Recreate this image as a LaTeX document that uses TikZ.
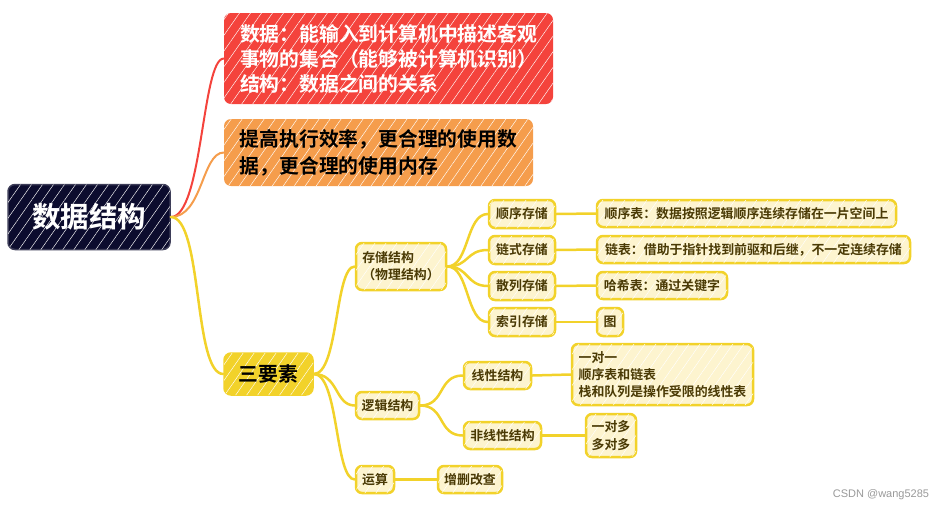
\documentclass[tikz,border=0pt]{standalone}
\usepackage{fontspec}
\newfontfamily\cjk{Noto Sans CJK SC}
\newfontfamily\cjkb{Noto Sans CJK SC Bold}
\setsansfont{Liberation Sans}
\usetikzlibrary{patterns.meta}
\definecolor{navy}{HTML}{0C0C2E}
\definecolor{redc}{HTML}{F4433C}
\definecolor{orac}{HTML}{F59D4C}
\definecolor{yelc}{HTML}{F2D22A}
\definecolor{lightc}{HTML}{FDF4CF}
\definecolor{brownc}{HTML}{4A3A05}
\tikzset{
  hatch/.style={postaction={pattern={Lines[angle=55,distance=9pt,line width=0.45pt]},pattern color=white}},
  rootbox/.style={draw=navy!80!white, line width=1.5pt, fill=navy, rounded corners=7pt, hatch,
     text=white, font=\cjkb\fontsize{28.5}{30}\selectfont, inner sep=0pt},
  topbox/.style={rounded corners=7pt, hatch, inner sep=0pt, align=left,
     font=\cjkb\fontsize{19.8}{25}\selectfont},
  mainbox/.style={draw=yelc, line width=1.5pt, fill=yelc, rounded corners=7pt, hatch, inner sep=0pt,
     font=\cjkb\fontsize{19.8}{22}\selectfont, text=black},
  leaf/.style={draw=yelc, line width=2.5pt, fill=lightc, rounded corners=6pt, hatch, inner sep=0pt,
     align=left, text=brownc, font=\cjkb\fontsize{12.9}{17}\selectfont},
  conn/.style={line width=2.5pt, yelc, line cap=round},
  tconn/.style={line width=2pt, line cap=round}
}
\begin{document}
\begin{tikzpicture}[x=1pt,y=-1pt]
\useasboundingbox (0,0) rectangle (945,512);
% nodes
\node[rootbox, minimum width=162pt, minimum height=65pt] (root) at (89,217) {数据结构};
\node[topbox, fill=redc, text=white, minimum width=329pt, minimum height=91pt] (red) at (388.5,58.5)
  {数据：能输入到计算机中描述客观\\事物的集合（能够被计算机识别）\\结构：数据之间的关系};
\node[topbox, fill=orac, text=black, minimum width=309pt, minimum height=67pt,
  font=\cjkb\fontsize{19.8}{27}\selectfont] (ora) at (378.5,152.5)
  {提高执行效率，更合理的使用数\\据，更合理的使用内存};
\node[mainbox, minimum width=89pt, minimum height=42pt] (three) at (268.5,374) {三要素};

\node[leaf, minimum width=90pt, minimum height=47pt] (cc) at (401,266.5) {存储结构\\（物理结构）};
\node[leaf, minimum width=66pt, minimum height=28pt] (sx) at (522,214) {顺序存储};
\node[leaf, minimum width=66pt, minimum height=28pt] (ls) at (522,250) {链式存储};
\node[leaf, minimum width=66pt, minimum height=28pt] (sl) at (522,286) {散列存储};
\node[leaf, minimum width=66pt, minimum height=28pt] (sy) at (522,322) {索引存储};
\node[leaf, minimum width=299pt, minimum height=27pt] (sxb) at (746.5,213.5) {顺序表：数据按照逻辑顺序连续存储在一片空间上};
\node[leaf, minimum width=313pt, minimum height=27pt] (lb) at (753.5,249.5) {链表：借助于指针找到前驱和后继，不一定连续存储};
\node[leaf, minimum width=130pt, minimum height=27pt] (hx) at (662,285.5) {哈希表：通过关键字};
\node[leaf, minimum width=26pt, minimum height=28pt] (tu) at (610,322) {图};

\node[leaf, minimum width=63pt, minimum height=27pt] (lj) at (387.5,405.5) {逻辑结构};
\node[leaf, minimum width=67pt, minimum height=27pt] (xx) at (497.5,375.5) {线性结构};
\node[leaf, minimum width=181pt, minimum height=61pt] (yy) at (662.5,374.5) {一对一\\顺序表和链表\\栈和队列是操作受限的线性表};
\node[leaf, minimum width=77pt, minimum height=27pt] (fx) at (502.5,435.5) {非线性结构};
\node[leaf, minimum width=50pt, minimum height=43pt, font=\cjkb\fontsize{12.9}{18}\selectfont] (yd) at (611,435.5) {一对多\\多对多};
\node[leaf, minimum width=38pt, minimum height=27pt] (ys) at (375,479.5) {运算};
\node[leaf, minimum width=64pt, minimum height=27pt] (zs) at (470,479.5) {增删改查};

\node[font=\sffamily\fontsize{11}{13}\selectfont, text=gray!80] (wm) at (881,495) {CSDN @wang5285};

% connectors
\draw[tconn, redc] (root.east) .. controls +(32,0) and +(-22,0) .. (red.west);
\draw[tconn, orac] (root.east) .. controls +(32,0) and +(-22,0) .. (ora.west);
\draw[conn] (root.east) .. controls +(32,0) and +(-30,0) .. (three.west);

\draw[conn] (three.east) .. controls +(25,0) and +(-20,0) .. (cc.west);
\draw[conn] (three.east) .. controls +(25,0) and +(-20,0) .. (lj.west);
\draw[conn] (three.east) .. controls +(25,0) and +(-20,0) .. (ys.west);

\draw[conn] (cc.east) .. controls +(22,0) and +(-22,0) .. (sx.west);
\draw[conn] (cc.east) .. controls +(22,0) and +(-22,0) .. (ls.west);
\draw[conn] (cc.east) .. controls +(22,0) and +(-22,0) .. (sl.west);
\draw[conn] (cc.east) .. controls +(22,0) and +(-22,0) .. (sy.west);

\draw[conn] (sx.east) -- (sxb.west);
\draw[conn] (ls.east) -- (lb.west);
\draw[conn] (sl.east) -- (hx.west);
\draw[conn] (sy.east) -- (tu.west);

\draw[conn] (lj.east) .. controls +(25,0) and +(-25,0) .. (xx.west);
\draw[conn] (lj.east) .. controls +(25,0) and +(-25,0) .. (fx.west);
\draw[conn] (xx.east) -- (yy.west);
\draw[conn] (fx.east) -- (yd.west);
\draw[conn] (ys.east) -- (zs.west);
\end{tikzpicture}
\end{document}
